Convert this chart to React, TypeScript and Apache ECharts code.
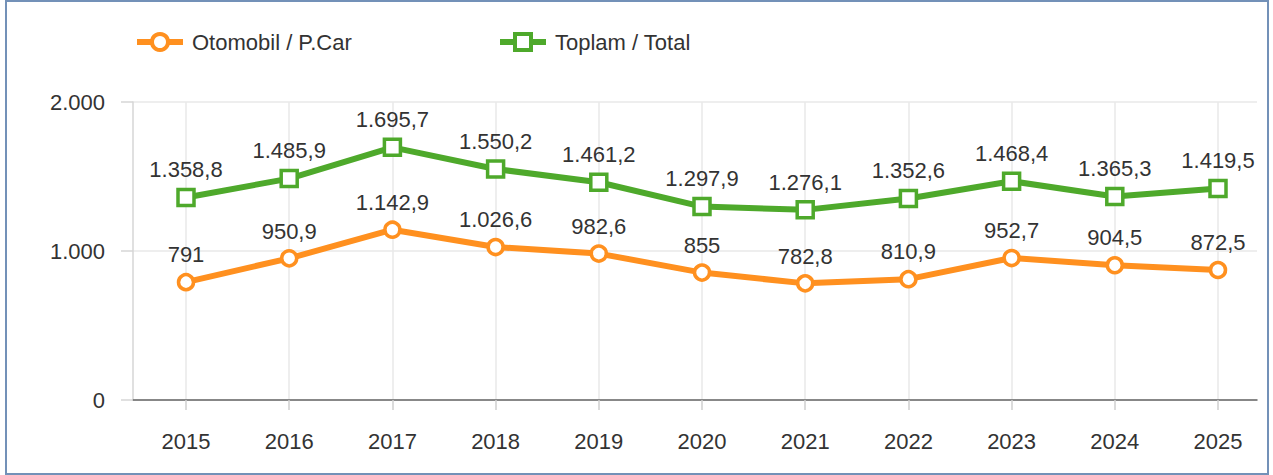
import React, { useEffect, useRef } from "react";
import * as echarts from "echarts";

const years = ["2015", "2016", "2017", "2018", "2019", "2020", "2021", "2022", "2023", "2024", "2025"];
const otomobil = [791, 950.9, 1142.9, 1026.6, 982.6, 855, 782.8, 810.9, 952.7, 904.5, 872.5];
const toplam = [1358.8, 1485.9, 1695.7, 1550.2, 1461.2, 1297.9, 1276.1, 1352.6, 1468.4, 1365.3, 1419.5];
const yTicks = { min: 0, max: 2000, interval: 1000 };

const ORANGE = "#ff901f";
const GREEN = "#4ea92b";
const FONT = "'Liberation Sans', Arial, sans-serif";

function trFormat(v: number): string {
  const neg = v < 0;
  const abs = Math.abs(v);
  const parts = String(Math.round(abs * 10) / 10).split(".");
  const intPart = parts[0].replace(/\B(?=(\d{3})+(?!\d))/g, ".");
  const s = parts[1] ? intPart + "," + parts[1] : intPart;
  return neg ? "-" + s : s;
}

export default function App() {
  const ref = useRef<HTMLDivElement>(null);

  useEffect(() => {
    document.body.style.margin = "0";
    if (!ref.current) return;
    const chart = echarts.init(ref.current, undefined, { renderer: "svg" });
    const labelStyle = {
      show: true,
      position: "top" as const,
      distance: 7,
      fontSize: 22,
      fontFamily: FONT,
      color: "#333",
      formatter: (p: any) => trFormat(p.value),
    };
    const legendBase = {
      top: 26,
      itemWidth: 46,
      itemHeight: 20,
      itemGap: 10,
      textStyle: { fontSize: 22, color: "#333", fontFamily: FONT, padding: [0, 0, 0, 4] },
    };
    chart.setOption({
      animation: false,
      backgroundColor: "transparent",
      textStyle: { fontFamily: FONT },
      legend: [
        {
          ...legendBase,
          data: ["Otomobil / P.Car"],
          left: 129,
          lineStyle: { width: 6, color: ORANGE },
          itemStyle: { color: "#fff", borderColor: ORANGE, borderWidth: 4 },
        },
        {
          ...legendBase,
          data: ["Toplam / Total"],
          left: 492,
          lineStyle: { width: 6, color: GREEN },
          itemStyle: { color: "#fff", borderColor: GREEN, borderWidth: 4 },
        },
      ],
      grid: [
        { left: 133, right: 16, top: 102, bottom: 75 },
        { left: 186, right: 55, top: 102, bottom: 75 },
      ],
      xAxis: [
        {
          gridIndex: 0,
          type: "value",
          min: 0,
          max: 1,
          axisLine: { show: true, lineStyle: { color: "#666", width: 1.5 } },
          axisTick: { show: false },
          axisLabel: { show: false },
          splitLine: { show: false },
        },
        {
          gridIndex: 1,
          type: "category",
          data: years,
          boundaryGap: false,
          axisLine: { show: false },
          axisTick: { show: true, length: 10, lineStyle: { color: "#cfcfcf", width: 1.5 } },
          splitLine: { show: true, lineStyle: { color: "#e8e8e8", width: 1.5 } },
          axisLabel: { fontSize: 22, color: "#333", fontFamily: FONT, margin: 30 },
        },
      ],
      yAxis: [
        {
          gridIndex: 0,
          type: "value",
          min: yTicks.min,
          max: yTicks.max,
          interval: yTicks.interval,
          axisLine: { show: true, lineStyle: { color: "#d6d6d6", width: 1.5 } },
          axisTick: { show: true, length: 12, lineStyle: { color: "#d6d6d6", width: 1.5 } },
          splitLine: { show: true, lineStyle: { color: "#e8e8e8", width: 1.5 } },
          axisLabel: {
            fontSize: 22,
            color: "#333",
            fontFamily: FONT,
            margin: 28,
            formatter: (v: number) => trFormat(v),
          },
        },
        {
          gridIndex: 1,
          type: "value",
          min: yTicks.min,
          max: yTicks.max,
          interval: yTicks.interval,
          show: false,
          splitLine: { show: false },
        },
      ],
      series: [
        {
          name: "Otomobil / P.Car",
          type: "line",
          xAxisIndex: 1,
          yAxisIndex: 1,
          data: otomobil,
          symbol: "circle",
          symbolSize: 15,
          lineStyle: { color: ORANGE, width: 6 },
          itemStyle: { color: "#fff", borderColor: ORANGE, borderWidth: 3.5 },
          label: labelStyle,
          z: 3,
        },
        {
          name: "Toplam / Total",
          type: "line",
          xAxisIndex: 1,
          yAxisIndex: 1,
          data: toplam,
          symbol: "rect",
          symbolSize: 16,
          lineStyle: { color: GREEN, width: 6 },
          itemStyle: { color: "#fff", borderColor: GREEN, borderWidth: 3.5 },
          label: labelStyle,
          z: 3,
        },
      ],
    });
    return () => chart.dispose();
  }, []);

  return (
    <div style={{ position: "relative", width: 1273, height: 475, background: "#fff" }}>
      <div
        style={{
          position: "absolute",
          left: 5,
          top: 0,
          width: 1264,
          height: 475,
          border: "2px solid #7391b8",
          boxSizing: "border-box",
        }}
      />
      <div ref={ref} style={{ position: "absolute", left: 0, top: 0, width: 1273, height: 475 }} />
    </div>
  );
}
